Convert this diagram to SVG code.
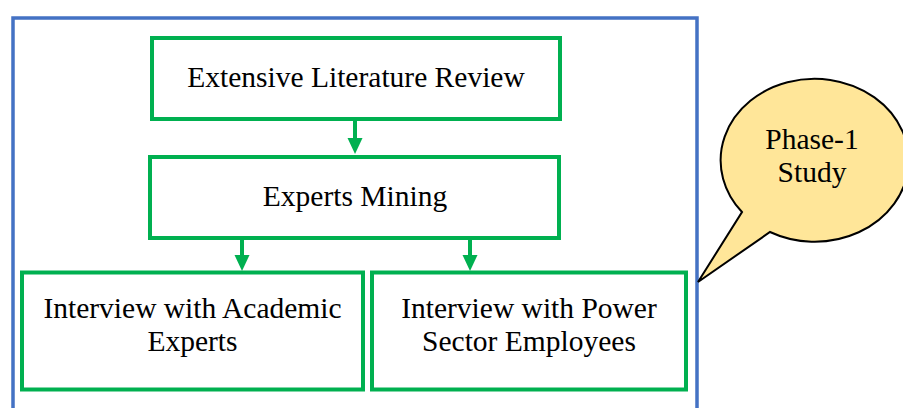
<svg xmlns="http://www.w3.org/2000/svg" width="903" height="408" viewBox="0 0 903 408">
  <style>
    .box { fill: #FFFFFF; stroke: #00B050; stroke-width: 4; }
    .lbl { font-family: "Liberation Serif", "Times New Roman", serif; font-size: 29.5px; fill: #000000; text-anchor: middle; }
    .conn { stroke: #00B050; stroke-width: 4; fill: none; }
  </style>
  <defs>
    <marker id="arrow" markerUnits="userSpaceOnUse" viewBox="0 -8 16 16" refX="0" refY="0" markerWidth="16" markerHeight="16" orient="auto" overflow="visible">
      <path d="M0,-7.5 L16,0 L0,7.5 Z" fill="#00B050"/>
    </marker>
  </defs>
  <rect width="903" height="408" fill="#FFFFFF"/>

  <g id="frame">
    <path d="M13,412 V18 H697 V412" fill="none" stroke="#4472C4" stroke-width="3.5"/>
  </g>

  <g id="callout">
    <path d="M742,212 A94,81.5 0 1 1 770,232 L698,282 Z" fill="#FFE699" stroke="#000000" stroke-width="2" stroke-linejoin="miter"/>
    <text class="lbl" x="812" y="149">Phase-1</text>
    <text class="lbl" x="812" y="182">Study</text>
  </g>

  <g id="connectors">
    <path class="conn" d="M355,121 V138" marker-end="url(#arrow)"/>
    <path class="conn" d="M242,240 V255" marker-end="url(#arrow)"/>
    <path class="conn" d="M470,240 V255" marker-end="url(#arrow)"/>
  </g>

  <g id="literature-review">
    <rect class="box" x="152" y="38" width="408" height="81"/>
    <text class="lbl" x="356" y="87">Extensive Literature Review</text>
  </g>

  <g id="experts-mining">
    <rect class="box" x="150" y="157" width="409" height="81"/>
    <text class="lbl" x="355" y="206">Experts Mining</text>
  </g>

  <g id="academic-experts">
    <rect class="box" x="22" y="272.5" width="341" height="117"/>
    <text class="lbl" x="192.5" y="318">Interview with Academic</text>
    <text class="lbl" x="192.5" y="351">Experts</text>
  </g>

  <g id="power-sector">
    <rect class="box" x="372" y="272.5" width="314" height="117"/>
    <text class="lbl" x="529" y="318">Interview with Power</text>
    <text class="lbl" x="529" y="351">Sector Employees</text>
  </g>
</svg>
